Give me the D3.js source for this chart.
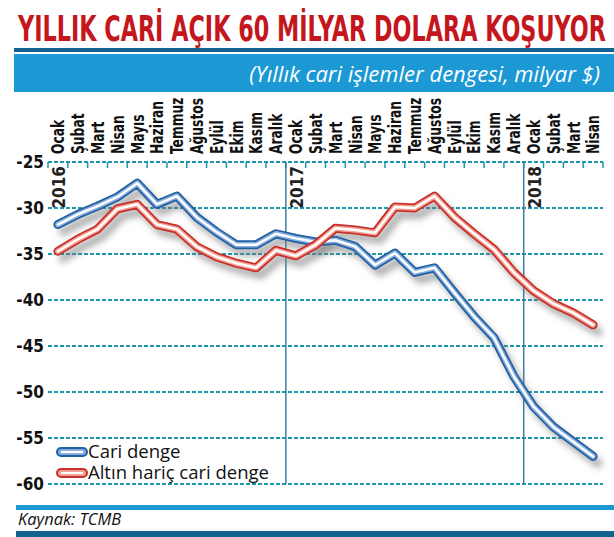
<!DOCTYPE html>
<html>
<head>
<meta charset="utf-8">
<script src="https://cdn.jsdelivr.net/npm/d3@7"></script>
<style>
  body { margin: 0; background: #fff; }
  svg { display: block; }
</style>
</head>
<body>
<svg id="chart" width="614" height="537"></svg>
<script>
// aylar (Ocak 2016 - Nisan 2018)
const months = ["Ocak","Şubat","Mart","Nisan","Mayıs","Haziran","Temmuz","Ağustos","Eylül","Ekim","Kasım","Aralık",
  "Ocak","Şubat","Mart","Nisan","Mayıs","Haziran","Temmuz","Ağustos","Eylül","Ekim","Kasım","Aralık",
  "Ocak","Şubat","Mart","Nisan"];
const years = [{ label: "2016", idx: 0 }, { label: "2017", idx: 12 }, { label: "2018", idx: 24 }];

// yıllık cari denge, milyar $
const cariDenge = [-31.8, -30.7, -29.8, -28.8, -27.3, -29.6, -28.7, -31.0, -32.6, -34.0, -34.0, -32.8,
  -33.3, -33.7, -33.5, -34.2, -36.2, -34.9, -37.0, -36.5, -39.2, -41.8, -44.1, -48.3,
  -51.6, -53.8, -55.4, -57.0];
const altinHaric = [-34.7, -33.4, -32.3, -30.1, -29.6, -31.8, -32.3, -34.2, -35.3, -36.0, -36.5, -34.6,
  -35.2, -34.0, -32.2, -32.4, -32.7, -29.9, -30.0, -28.7, -31.0, -32.8, -34.5, -37.0,
  -39.0, -40.4, -41.4, -42.7];
const yTicks = [-25, -30, -35, -40, -45, -50, -55, -60];

const series = [
  { name: "Cari denge", values: cariDenge, dark: "#23609f", mid: "#86aee0" },
  { name: "Altın hariç cari denge", values: altinHaric, dark: "#c7302a", mid: "#f2a195" }
];

const svg = d3.select("#chart");
const narrow = "'Liberation Sans Narrow', 'DejaVu Sans Condensed', 'Arial Narrow', sans-serif";

// shadow filter
const defs = svg.append("defs");
defs.append("filter").attr("id", "blur").attr("x", "-10%").attr("y", "-10%").attr("width", "120%").attr("height", "130%")
  .append("feGaussianBlur").attr("stdDeviation", 3);

// header
svg.append("text")
  .attr("x", 18).attr("y", 41)
  .attr("textLength", 588).attr("lengthAdjust", "spacingAndGlyphs")
  .style("font-family", narrow).style("font-weight", "bold").style("font-size", "36px")
  .attr("fill", "#c4161c")
  .text("YILLIK CARİ AÇIK 60 MİLYAR DOLARA KOŞUYOR");

svg.append("rect").attr("x", 14).attr("y", 48).attr("width", 600).attr("height", 4).attr("fill", "#14628f");
svg.append("rect").attr("x", 14).attr("y", 54).attr("width", 600).attr("height", 38).attr("fill", "#1c98d4");
svg.append("text")
  .attr("x", 600).attr("y", 82).attr("text-anchor", "end")
  .style("font-family", "'Open Sans', sans-serif").style("font-style", "italic").style("font-size", "22px")
  .attr("fill", "#fff")
  .text("(Yıllık cari işlemler dengesi, milyar $)");

// scales
const x = d3.scaleBand().domain(d3.range(months.length)).range([48, 603]).padding(0);
const y = d3.scaleLinear().domain([-60, -25]).range([484, 162]);
const cx = i => x(i) + x.bandwidth() / 2;

// grid lines
const grid = "#1a97ad";
svg.append("g").selectAll("line").data(yTicks).join("line")
  .attr("x1", 48).attr("x2", 603)
  .attr("y1", d => y(d)).attr("y2", d => y(d))
  .attr("stroke", grid).attr("stroke-width", 2).attr("stroke-dasharray", "4,2");

// top tick marks on month boundaries
svg.append("g").selectAll("line").data(d3.range(months.length + 1)).join("line")
  .attr("x1", i => i < months.length ? x(i) : x.range()[1])
  .attr("x2", i => i < months.length ? x(i) : x.range()[1])
  .attr("y1", y(-25)).attr("y2", y(-25) + 6)
  .attr("stroke", grid).attr("stroke-width", 1.5);

// year separators
svg.append("g").selectAll("line").data(years.filter(d => d.idx > 0)).join("line")
  .attr("x1", d => x(d.idx)).attr("x2", d => x(d.idx))
  .attr("y1", y(-25)).attr("y2", y(-60))
  .attr("stroke", "#3b7fa6").attr("stroke-width", 1.5);

svg.append("g").selectAll("text").data(years).join("text")
  .attr("transform", d => `translate(${x(d.idx) + 17},${y(-25) + 4}) rotate(-90)`)
  .attr("text-anchor", "end")
  .style("font-family", narrow).style("font-weight", "bold").style("font-size", "17px")
  .attr("fill", "#222")
  .text(d => d.label);

// y axis
const yAxis = svg.append("g")
  .attr("transform", "translate(44,0)")
  .call(d3.axisLeft(y).tickValues(yTicks).tickSize(0).tickPadding(0).tickFormat(d => d));
yAxis.select(".domain").remove();
yAxis.selectAll("text")
  .style("font-family", narrow).style("font-weight", "bold").style("font-size", "17px")
  .attr("fill", "#111").attr("dy", "0.35em");

// month labels (squeezed along the reading direction, like a condensed face)
const xAxis = svg.append("g")
  .attr("transform", "translate(0,154)")
  .call(d3.axisTop(x).tickSize(0).tickFormat(i => months[i]));
xAxis.select(".domain").remove();
xAxis.selectAll("text")
  .attr("transform", "rotate(-90) scale(0.76,1)")
  .attr("x", 0).attr("y", 0).attr("dy", "0.35em")
  .attr("text-anchor", "start")
  .style("font-family", narrow).style("font-weight", "bold").style("font-size", "18px")
  .attr("fill", "#111");

// lines
const line = d3.line().x((d, i) => cx(i)).y(d => y(d));
const lines = svg.append("g");
series.forEach(s => {
  lines.append("path").datum(s.values)
    .attr("d", line).attr("fill", "none")
    .attr("stroke", "#777").attr("stroke-opacity", 0.55).attr("stroke-width", 9)
    .attr("stroke-linejoin", "round").attr("stroke-linecap", "round")
    .attr("transform", "translate(5,7)").attr("filter", "url(#blur)");
});
series.forEach(s => {
  [[9, s.dark], [5.5, s.mid], [2.5, "#fff"]].forEach(([w, c]) => {
    lines.append("path").datum(s.values)
      .attr("d", line).attr("fill", "none")
      .attr("stroke", c).attr("stroke-width", w)
      .attr("stroke-linejoin", "round").attr("stroke-linecap", "round");
  });
});

// legend
const legend = svg.append("g").selectAll("g").data(series).join("g")
  .attr("transform", (d, i) => `translate(57,${452 + i * 21})`);
legend.append("rect")
  .attr("x", 0).attr("y", -4).attr("width", 30).attr("height", 8).attr("rx", 4)
  .attr("fill", d => d.mid).attr("stroke", d => d.dark).attr("stroke-width", 2);
legend.append("rect")
  .attr("x", 4).attr("y", -1).attr("width", 22).attr("height", 2).attr("fill", "#fff");
legend.append("text")
  .attr("x", 31).attr("y", 6)
  .style("font-family", "'Open Sans', sans-serif").style("font-size", "18.5px")
  .attr("fill", "#111")
  .text(d => d.name);

// footer
svg.append("rect").attr("x", 16).attr("y", 505).attr("width", 598).attr("height", 5).attr("fill", "#1c98d4");
svg.append("text")
  .attr("x", 18).attr("y", 525)
  .style("font-family", "'Open Sans', sans-serif").style("font-style", "italic").style("font-size", "16.5px")
  .attr("fill", "#111")
  .text("Kaynak: TCMB");
svg.append("rect").attr("x", 16).attr("y", 531).attr("width", 598).attr("height", 6).attr("fill", "#14628f");
</script>
</body>
</html>
